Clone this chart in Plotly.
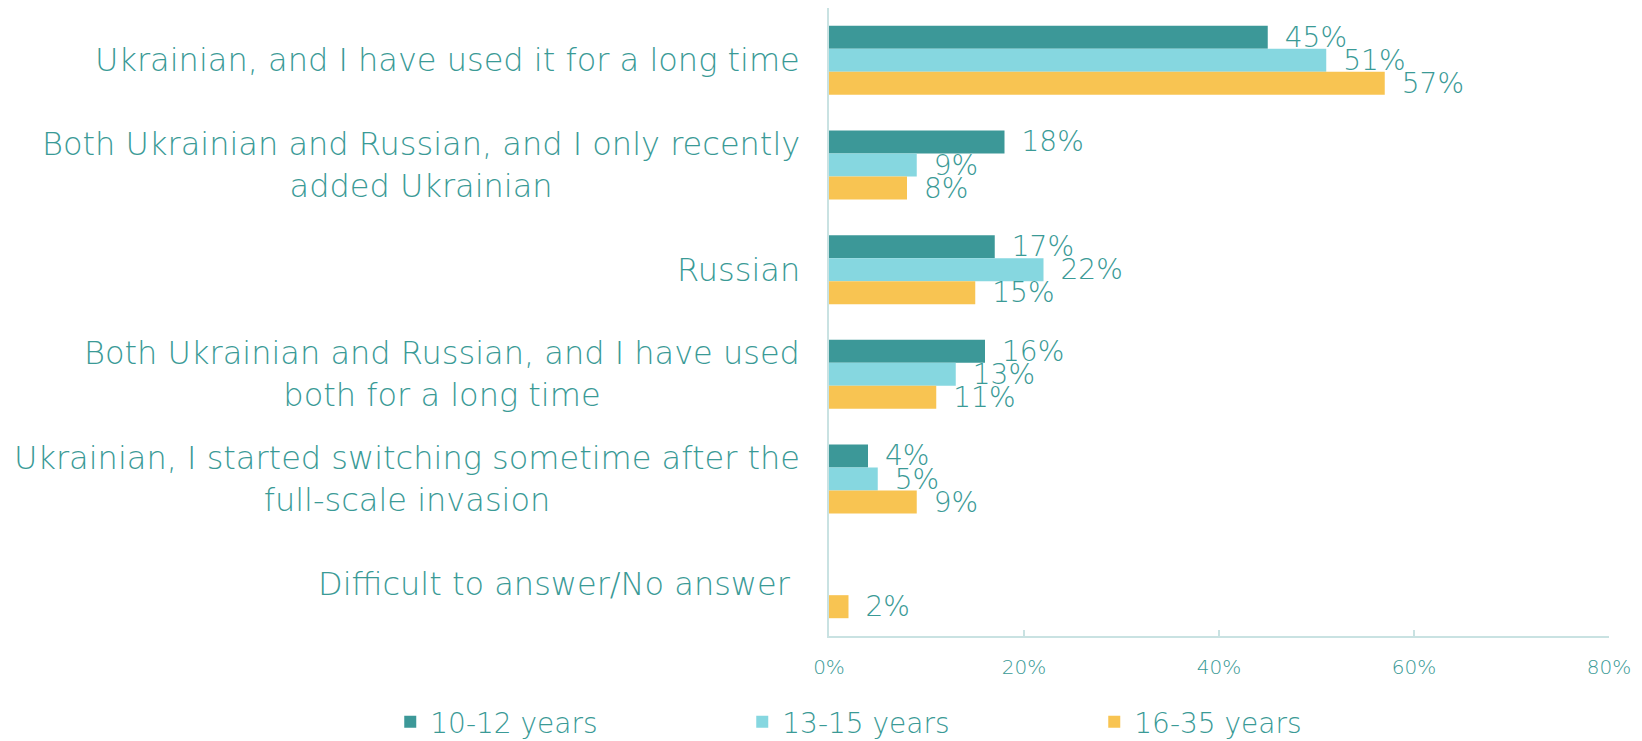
import plotly.graph_objects as go

categories = [
    "Ukrainian, and I have used it for a long time",
    "Both Ukrainian and Russian, and I only recently<br>added Ukrainian",
    "Russian",
    "Both Ukrainian and Russian, and I have used<br>both for a long time",
    "Ukrainian, I started switching sometime after the<br>full-scale invasion",
    "Difficult to answer/No answer\u00a0",
]
series_names = ["10-12 years", "13-15 years", "16-35 years"]
v_10_12 = [45, 18, 17, 16, 4, None]
v_13_15 = [51, 9, 22, 13, 5, None]
v_16_35 = [57, 8, 15, 11, 9, 2]
colors = ["#3c9898", "#86d7e0", "#f8c452"]
tick_vals = [0, 20, 40, 60, 80]
tick_text = ["0%", "20%", "40%", "60%", "80%"]

TEXT = "#3a9a96"
FONT = "DejaVu Sans"

fig = go.Figure()
for name, vals, col in zip(series_names, [v_10_12, v_13_15, v_16_35], colors):
    fig.add_trace(go.Bar(
        y=categories, x=vals, name=name, orientation="h",
        marker=dict(color=col, line=dict(width=0)),
        text=[("\u2002" + f"{v}%") if v is not None else "" for v in vals],
        textposition="outside", cliponaxis=False, constraintext="none",
        textfont=dict(family=FONT, size=28, color=TEXT, weight=300),
    ))

for c in categories:
    fig.add_annotation(
        x=-0.035, xref="paper", y=c, yref="y", text=c, showarrow=False,
        xanchor="right", yanchor="middle", align="center",
        font=dict(family=FONT, size=32, color=TEXT, weight=300),
    )

fig.update_layout(
    width=1642, height=741,
    paper_bgcolor="white", plot_bgcolor="white",
    margin=dict(l=829, r=33, t=8, b=105, autoexpand=False),
    barmode="group", bargap=0.34, bargroupgap=0,
    font=dict(family=FONT, color=TEXT),
    legend=dict(
        orientation="h", x=-0.5625, xref="paper", xanchor="left",
        y=-0.137, yref="paper", yanchor="middle",
        entrywidth=307, entrywidthmode="pixels",
        font=dict(family=FONT, size=28, color=TEXT, weight=300),
        itemwidth=30, traceorder="normal",
    ),
    showlegend=True,
)
fig.update_xaxes(
    range=[0, 80], tickvals=tick_vals, ticktext=tick_text,
    showgrid=False, zeroline=False,
    showline=True, linecolor="#c9e2e2", linewidth=2,
    ticks="inside", ticklen=6, tickcolor="#c9e2e2", tickwidth=2,
    tickfont=dict(family=FONT, size=20, color=TEXT, weight=300),
    ticklabelstandoff=12,
)
fig.update_yaxes(
    autorange="reversed", showticklabels=False, showgrid=False,
    zeroline=False, showline=True, linecolor="#c9e2e2", linewidth=2,
    ticks="",
)

fig.write_html(
    "out.html",
    config={"displayModeBar": False},
    post_script="document.body.style.margin='0';document.body.style.overflow='hidden';",
)
